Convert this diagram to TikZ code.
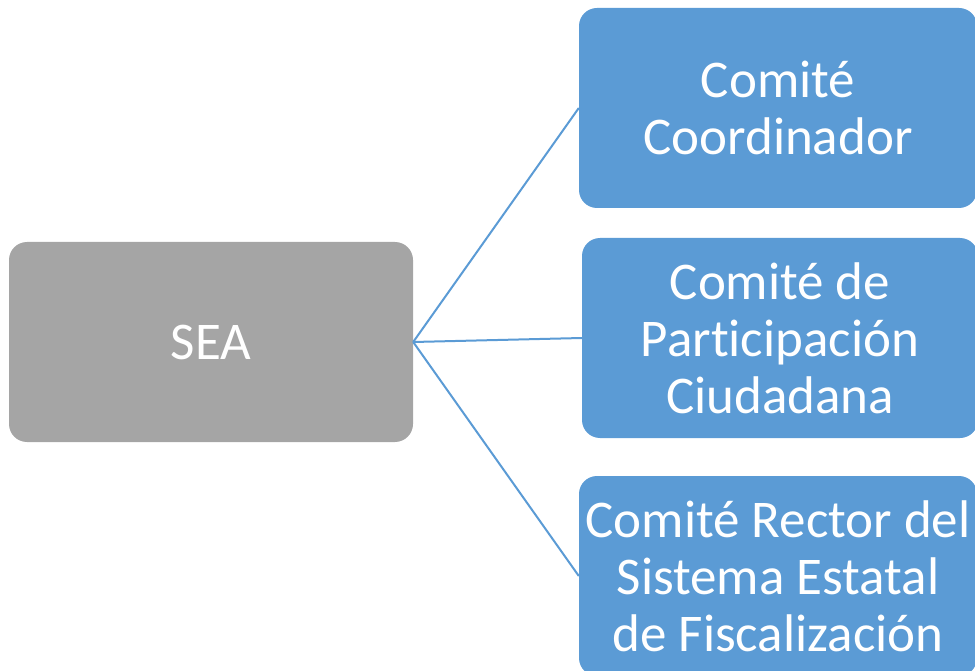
\documentclass[tikz,border=0pt]{standalone}
\usepackage{fontspec}
\setmainfont[Ligatures=NoCommon]{Carlito}
\definecolor{boxblue}{HTML}{5B9BD5}
\definecolor{boxgray}{HTML}{A5A5A5}
\begin{document}
\begin{tikzpicture}[x=1pt,y=-1pt,
  box/.style={rectangle, rounded corners=18pt, draw=none, text=white, align=center,
    inner sep=0pt, font=\fontsize{53}{57}\selectfont},
  conn/.style={draw=boxblue, line width=2pt}]
\useasboundingbox (0,0) rectangle (975,671);
\node[box, fill=boxgray, minimum width=404pt, minimum height=200pt] (sea) at (211,342) {SEA};
\node[box, fill=boxblue, minimum width=398pt, minimum height=200pt] (cc) at (778,108) {Comité\\Coordinador};
\node[box, fill=boxblue, minimum width=396pt, minimum height=200pt] (cpc) at (780,338) {Comité de\\Participación\\Ciudadana};
\node[box, fill=boxblue, minimum width=398pt, minimum height=200pt] (cr) at (778,576) {Comité Rector del\\Sistema Estatal\\de Fiscalización};
\draw[conn] (sea.east) -- (cc.west);
\draw[conn] (sea.east) -- (cpc.west);
\draw[conn] (sea.east) -- (cr.west);
\end{tikzpicture}
\end{document}
